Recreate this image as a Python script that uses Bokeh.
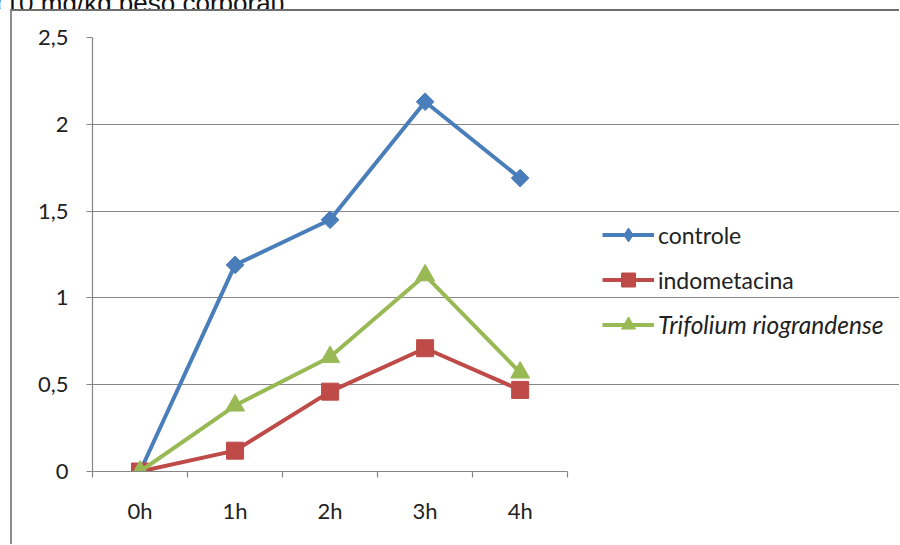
import math
from bokeh.plotting import figure
from bokeh.layouts import column
from bokeh.models import FixedTicker, Legend, LegendItem, Range1d, Div
from bokeh.embed import file_html
from bokeh.resources import INLINE

# Data
categories = ["0h", "1h", "2h", "3h", "4h"]
controle = [0, 1.19, 1.45, 2.13, 1.69]
indometacina = [0, 0.12, 0.46, 0.71, 0.47]
trifolium = [0, 0.38, 0.66, 1.13, 0.57]
y_ticks = [0, 0.5, 1, 1.5, 2, 2.5]
y_tick_labels = ["0", "0,5", "1", "1,5", "2", "2,5"]

FONT = "Lato"
GRID = "#868686"
TEXT = "#222222"

n = len(categories)
xs = [i + 0.5 for i in range(n)]

# plot area: the category part is 474 px wide, the frame continues to the
# right edge so the legends can sit inside it
CAT_W = 474
FRAME_W = 807

# caption line, only its lower part shows above the chart box
caption = Div(
    text='<div style="font: 26px \'Liberation Sans\'; line-height: 26px; '
         'margin-top: -15px; margin-left: -4px; white-space: nowrap; color: #111;">'
         '(10 mg/kg peso corporal)</div>',
    width=900, height=9, margin=(0, 0, 0, 0),
    styles={"overflow": "hidden"})

p = figure(frame_width=FRAME_W, frame_height=432, output_backend="svg",
           toolbar_location=None,
           x_range=Range1d(0, n * FRAME_W / CAT_W), y_range=Range1d(0, 2.5),
           min_border_left=80, min_border_right=0, min_border_top=26,
           min_border_bottom=75, background_fill_color="white",
           border_fill_color="white", outline_line_color=None,
           margin=(0, 0, 0, 10),
           styles={"border-left": "2px solid #8c8c8c",
                   "border-top": "2px solid #6e6e6e"})

# axes
p.xaxis.bounds = (0, n)
p.xaxis.ticker = FixedTicker(ticks=xs, minor_ticks=list(range(n + 1)))
p.xaxis.major_label_overrides = {x: c for x, c in zip(xs, categories)}
p.xaxis.major_tick_out = 0
p.xaxis.major_tick_in = 0
p.xaxis.minor_tick_out = 6
p.xaxis.minor_tick_in = 0
p.xaxis.minor_tick_line_color = GRID
p.xaxis.minor_tick_line_width = 1.2
p.xaxis.major_label_standoff = 19
p.yaxis.ticker = FixedTicker(ticks=y_ticks)
p.yaxis.major_label_overrides = {t: l for t, l in zip(y_ticks, y_tick_labels)}
p.yaxis.major_tick_out = 6
p.yaxis.major_tick_in = 0
p.yaxis.minor_tick_line_color = None
p.yaxis.major_label_standoff = 18
for ax in (p.xaxis, p.yaxis):
    ax.axis_line_color = GRID
    ax.axis_line_width = 1.2
    ax.major_tick_line_color = GRID
    ax.major_tick_line_width = 1.2
    ax.major_label_text_font = FONT
    ax.major_label_text_font_size = "22px"
    ax.major_label_text_color = TEXT

p.xgrid.grid_line_color = None
p.ygrid.ticker = FixedTicker(ticks=y_ticks)
p.ygrid.bounds = (0, n)
p.ygrid.grid_line_color = GRID
p.ygrid.grid_line_width = 1.2

# series
BLUE, RED, GREEN = "#4A7EBB", "#BE4B48", "#98B954"
r1l = p.line(xs, controle, line_color=BLUE, line_width=4)
# narrow diamond (used for the legend swatch), covered by the wider one below
r1k = p.scatter(xs, controle, marker="diamond", size=14,
                fill_color=BLUE, line_color=BLUE)
p.scatter(xs, controle, marker="square", size=12.5, angle=math.pi / 4,
          fill_color=BLUE, line_color=BLUE)
r2l = p.line(xs, indometacina, line_color=RED, line_width=4)
r2m = p.scatter(xs, indometacina, marker="square", size=17, fill_color=RED,
                line_color=RED)
r3l = p.line(xs, trifolium, line_color=GREEN, line_width=4)
r3m = p.scatter(xs, trifolium, marker="triangle", size=19, fill_color=GREEN,
                line_color=GREEN)

legend_style = dict(glyph_width=52, glyph_height=35, label_standoff=4,
                    spacing=10, padding=0, margin=0, border_line_color=None,
                    background_fill_alpha=0, label_text_font=FONT,
                    label_text_color=TEXT)
legend_a = Legend(items=[
    LegendItem(label="controle", renderers=[r1l, r1k]),
    LegendItem(label="indometacina", renderers=[r2l, r2m]),
], location=(510, 174), label_text_font_size="23px", **legend_style)
# species name set in italics
legend_b = Legend(items=[
    LegendItem(label="Trifolium riograndense", renderers=[r3l, r3m]),
], location=(510, 129), label_text_font_style="italic",
    label_text_font_size="24.5px", **legend_style)
p.add_layout(legend_a, "center")
p.add_layout(legend_b, "center")

open("out.html", "w").write(file_html(column(caption, p, spacing=0), INLINE))
